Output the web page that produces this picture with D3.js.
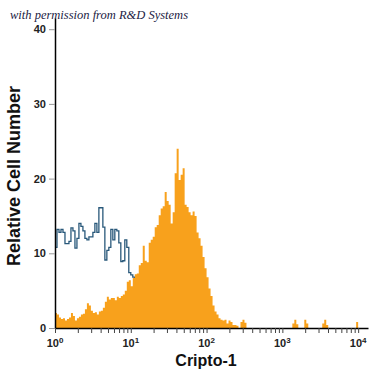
<!DOCTYPE html>
<html>
<head>
<meta charset="utf-8">
<script src="https://cdn.jsdelivr.net/npm/d3@7"></script>
<style>
  body { margin: 0; background: #fff; }
  svg { display: block; }
</style>
</head>
<body>
<svg width="375" height="375"></svg>
<script>
// histogram channels: 38 bins per decade, starting at 10^0
const binsPerDecade = 38;

// Cripto-1 stained cells (orange, filled)
const stainedCounts = [
  2.0, 1.8, 1.4, 1.2, 1.3, 1.0, 1.2, 1.4, 2.0, 1.6,
  1.0, 1.3, 1.5, 1.8, 1.9, 2.5, 3.3, 3.0, 2.3, 2.0,
  2.1, 1.8, 2.2, 2.3, 2.7, 3.5, 4.2, 3.8, 4.0, 4.0,
  3.7, 4.2, 4.0, 4.3, 4.5, 5.0, 6.2, 6.4, 5.6, 6.7,
  7.2, 7.3, 8.4, 8.7, 11.0, 9.0, 8.8, 11.4, 11.8, 12.2,
  13.5, 13.8, 15.1, 16.0, 16.3, 18.2, 17.0, 16.5, 14.0, 15.5,
  20.7, 24.0, 19.8, 20.5, 21.4, 16.5, 16.2, 15.5, 15.1, 15.6,
  15.0, 12.8, 12.0, 11.0, 9.5, 8.0, 6.8, 5.3, 4.3, 3.0,
  2.2, 1.8, 1.3, 1.1, 1.0, 1.1, 0.6, 1.0, 0.8, 0.4,
  0.4, 0.3, 0, 0.8, 1.1, 0.7, 0, 0, 0, 0,
  0, 0, 0, 0, 0, 0, 0, 0, 0, 0,
  0, 0, 0, 0, 0, 0, 0, 0, 0, 0.6,
  1.1, 0.5, 0, 0, 0, 1.1, 0.6, 0, 0, 0,
  0, 0, 0, 0, 0.6, 1.1, 0.4, 0, 0, 0,
  0, 0, 0, 0, 0, 0, 0, 0, 0, 0,
  0, 0.8
];

// isotype control (blue outline)
const isotypeCounts = [
  10.8, 13.2, 12.8, 13.2, 12.8, 11.3, 11.3, 11.6, 13.4, 13.0,
  10.7, 12.0, 14.0, 13.6, 13.0, 12.0, 11.8, 12.2, 12.2, 12.8,
  14.0, 12.8, 16.1, 16.1, 13.5, 9.1, 10.4, 10.8, 13.2, 11.8,
  13.2, 13.0, 11.4, 8.9, 9.0, 11.8, 10.8, 7.4, 7.1, 6.8,
  6.5, 6.0, 5.0, 4.0, 3.0, 2.0, 0
];

const yTicks = [0, 10, 20, 30, 40];
const xDecades = [0, 1, 2, 3, 4];
const xTitle = "Cripto-1";
const yTitle = "Relative Cell Number";
const credit = "with permission from R&D Systems";

const svg = d3.select("svg");

const dims = { left: 55, right: 368, top: 18, bottom: 328 };

const xScale = d3.scaleLog().domain([1, Math.pow(10, 4.13)]).range([dims.left, dims.right]);
const yScale = d3.scaleLinear().domain([0, 41.5]).range([dims.bottom, dims.top]);

const binX = (i) => xScale(Math.pow(10, i / binsPerDecade));

function toPoints(counts) {
  const pts = counts.map((c, i) => ({ i: i, c: c }));
  pts.push({ i: counts.length, c: counts[counts.length - 1] });
  return pts;
}

// isotype outline first, stained fill goes on top
const isoLine = d3.line()
  .x((d) => binX(d.i))
  .y((d) => yScale(d.c))
  .curve(d3.curveStepAfter);

svg.append("path")
  .attr("d", isoLine(toPoints(isotypeCounts)))
  .attr("fill", "none")
  .attr("stroke", "#28587a")
  .attr("stroke-width", 1.3);

const stainedArea = d3.area()
  .x((d) => binX(d.i))
  .y0(yScale(0))
  .y1((d) => yScale(d.c))
  .curve(d3.curveStepAfter);

svg.append("path")
  .attr("d", stainedArea(toPoints(stainedCounts)))
  .attr("fill", "#f8a11c");

// y axis
const yAxis = svg.append("g")
  .attr("transform", `translate(${dims.left},0)`)
  .call(d3.axisLeft(yScale).tickValues(yTicks).tickSize(6).tickSizeOuter(0).tickPadding(3));

yAxis.select(".domain").attr("stroke", "#000").attr("stroke-width", 1.5);
yAxis.selectAll(".tick line").attr("stroke", "#999").attr("stroke-width", 1);
yAxis.selectAll(".tick text")
  .attr("font-family", "Liberation Sans, Arial, sans-serif")
  .attr("font-weight", "bold")
  .attr("font-size", 11)
  .attr("fill", "#222");

// x axis with minor ticks
const xTickValues = [];
xDecades.forEach((d) => {
  for (let m = 1; m <= 9; m++) {
    const v = m * Math.pow(10, d);
    if (v <= 10000) xTickValues.push(v);
  }
});

const xAxis = svg.append("g")
  .attr("transform", `translate(0,${dims.bottom})`)
  .call(d3.axisBottom(xScale).tickValues(xTickValues).tickFormat("").tickSize(5).tickSizeOuter(0));

xAxis.select(".domain").attr("stroke", "#000").attr("stroke-width", 1.5);
xAxis.selectAll(".tick line").attr("stroke", "#444").attr("stroke-width", 1);

const xLabels = svg.append("g")
  .attr("font-family", "Liberation Sans, Arial, sans-serif")
  .attr("font-weight", "bold")
  .attr("fill", "#222")
  .selectAll("text")
  .data(xDecades)
  .enter()
  .append("text")
  .attr("x", (d) => xScale(Math.pow(10, d)))
  .attr("y", dims.bottom + 19)
  .attr("text-anchor", "middle")
  .attr("font-size", 11);

xLabels.append("tspan").text("10");
xLabels.append("tspan")
  .attr("dy", -4)
  .attr("font-size", 8)
  .text((d) => d);

// titles
svg.append("text")
  .attr("x", 206)
  .attr("y", 366)
  .attr("text-anchor", "middle")
  .attr("font-family", "Liberation Sans, Arial, sans-serif")
  .attr("font-weight", "bold")
  .attr("font-size", 16)
  .attr("fill", "#111")
  .text(xTitle);

svg.append("text")
  .attr("transform", "translate(20,176) rotate(-90)")
  .attr("text-anchor", "middle")
  .attr("font-family", "Liberation Sans, Arial, sans-serif")
  .attr("font-weight", "bold")
  .attr("font-size", 18)
  .attr("fill", "#111")
  .text(yTitle);

svg.append("text")
  .attr("x", 10)
  .attr("y", 19)
  .attr("font-family", "Liberation Serif, serif")
  .attr("font-style", "italic")
  .attr("font-size", 12.5)
  .attr("fill", "#1c1c44")
  .text(credit);
</script>
</body>
</html>
